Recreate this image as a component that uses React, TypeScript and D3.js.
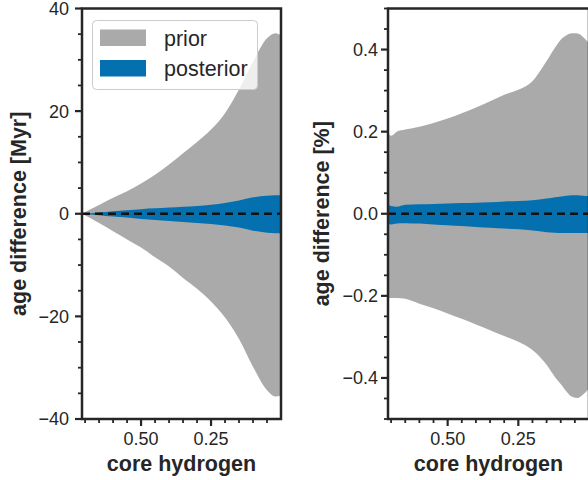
import React from "react";
import * as d3 from "d3";

// ---------- data ----------
const xLeft = [0.711, 0.65, 0.6, 0.55, 0.5, 0.45, 0.4, 0.35, 0.3, 0.25, 0.2, 0.15, 0.1, 0.05, 0.02, 0.0];
const priorUpperMyr = [0, 1.7, 3.1, 4.4, 5.9, 7.6, 9.6, 11.8, 14.0, 16.4, 19.6, 24.2, 29.6, 34.2, 35.2, 34.8];
const priorLowerMyr = [0, -1.8, -3.4, -5.0, -6.6, -8.5, -10.3, -12.5, -14.6, -17.1, -20.2, -24.4, -29.8, -34.4, -35.6, -35.4];
const postUpperMyr = [0, 0.25, 0.5, 0.7, 0.9, 1.05, 1.2, 1.35, 1.5, 1.75, 2.1, 2.6, 3.2, 3.5, 3.6, 3.6];
const postLowerMyr = [0, -0.3, -0.55, -0.75, -1.0, -1.2, -1.4, -1.6, -1.8, -2.0, -2.3, -2.7, -3.3, -3.7, -3.8, -3.8];

const xRight = [0.711, 0.7, 0.68, 0.65, 0.6, 0.55, 0.5, 0.45, 0.4, 0.35, 0.3, 0.25, 0.2, 0.15, 0.12, 0.1, 0.08, 0.06, 0.04, 0.02, 0.0];
const priorUpperPct = [0.196, 0.19, 0.2, 0.205, 0.212, 0.221, 0.232, 0.245, 0.259, 0.274, 0.29, 0.302, 0.323, 0.372, 0.405, 0.424, 0.435, 0.44, 0.439, 0.43, 0.415];
const priorLowerPct = [-0.205, -0.205, -0.205, -0.207, -0.219, -0.23, -0.243, -0.256, -0.27, -0.284, -0.298, -0.312, -0.332, -0.368, -0.398, -0.415, -0.433, -0.446, -0.449, -0.44, -0.425];
const postUpperPct = [0.022, 0.019, 0.017, 0.022, 0.023, 0.024, 0.025, 0.026, 0.027, 0.028, 0.03, 0.031, 0.033, 0.037, 0.04, 0.042, 0.044, 0.045, 0.045, 0.044, 0.043];
const postLowerPct = [-0.025, -0.026, -0.024, -0.023, -0.024, -0.026, -0.028, -0.03, -0.032, -0.034, -0.036, -0.038, -0.041, -0.045, -0.046, -0.047, -0.047, -0.047, -0.047, -0.047, -0.047];

const xMajorTicks = [0.5, 0.25];
const xMinorTicks = [0.7, 0.65, 0.6, 0.55, 0.45, 0.4, 0.35, 0.3, 0.2, 0.15, 0.1, 0.05];
const yLeftMajor = [40, 20, 0, -20, -40];
const yRightMajor = [0.4, 0.2, 0.0, -0.2, -0.4];

const legendLabels = ["prior", "posterior"];

const PRIOR = "#aaaaaa";
const POST = "#0570b0";
const INK = "#262626";
const FONT = "'Liberation Sans', Arial, sans-serif";

type PanelProps = {
  x0: number; x1: number; y0: number; y1: number;
  xs: number[]; pu: number[]; pl: number[]; qu: number[]; ql: number[];
  yDomain: [number, number]; yMajor: number[]; yMinorStep: number;
  fmt: (v: number) => string; ylabel: string; ylabelX: number; tickLabelX: number;
};

function Panel(p: PanelProps) {
  const x = d3.scaleLinear().domain([0.711, 0.0]).range([p.x0, p.x1]);
  const y = d3.scaleLinear().domain(p.yDomain).range([p.y1, p.y0]);
  const idx = p.xs.map((_, i) => i);
  const area = (lo: number[], hi: number[]) =>
    d3.area<number>()
      .x((i) => x(p.xs[i]))
      .y0((i) => y(lo[i]))
      .y1((i) => y(hi[i]))
      .curve(d3.curveMonotoneX)(idx) || "";
  const yMinor: number[] = [];
  const n = Math.round((p.yDomain[1] - p.yDomain[0]) / p.yMinorStep);
  for (let k = 0; k <= n; k++) {
    const v = p.yDomain[0] + k * p.yMinorStep;
    if (!p.yMajor.some((m) => Math.abs(m - v) < 1e-9)) yMinor.push(v);
  }
  const cx = (p.x0 + p.x1) / 2;
  const cy = (p.y0 + p.y1) / 2;
  return (
    <g>
      <path d={area(p.pl, p.pu)} fill={PRIOR} />
      <path d={area(p.ql, p.qu)} fill={POST} />
      <line x1={x(0.711)} x2={x(0)} y1={y(0)} y2={y(0)} stroke="#111" strokeWidth={2.5} strokeDasharray="8,5" />
      {/* spines */}
      <rect x={p.x0} y={p.y0} width={p.x1 - p.x0} height={p.y1 - p.y0} fill="none" stroke={INK} strokeWidth={2.5} />
      {/* x ticks */}
      {xMajorTicks.map((t) => (
        <g key={"xm" + t}>
          <line x1={x(t)} x2={x(t)} y1={p.y1} y2={p.y1 + 7} stroke={INK} strokeWidth={2.2} />
          <text x={x(t)} y={p.y1 + 26} textAnchor="middle" fontSize={18} fill={INK} fontFamily={FONT}>
            {t.toFixed(2)}
          </text>
        </g>
      ))}
      {xMinorTicks.map((t) => (
        <line key={"xn" + t} x1={x(t)} x2={x(t)} y1={p.y1} y2={p.y1 + 4} stroke={INK} strokeWidth={1.8} />
      ))}
      {/* y ticks */}
      {p.yMajor.map((t) => (
        <g key={"ym" + t}>
          <line x1={p.x0 - 7} x2={p.x0} y1={y(t)} y2={y(t)} stroke={INK} strokeWidth={2.2} />
          <text x={p.tickLabelX} y={y(t)} dy="0.36em" textAnchor="end" fontSize={18} fill={INK} fontFamily={FONT}>
            {p.fmt(t)}
          </text>
        </g>
      ))}
      {yMinor.map((t) => (
        <line key={"yn" + t} x1={p.x0 - 4} x2={p.x0} y1={y(t)} y2={y(t)} stroke={INK} strokeWidth={1.8} />
      ))}
      <text x={cx} y={471} textAnchor="middle" fontSize={21.5} fontWeight="bold" fill={INK} fontFamily={FONT}>
        core hydrogen
      </text>
      <text transform={`translate(${p.ylabelX},${cy}) rotate(-90)`} textAnchor="middle" fontSize={21.5} fontWeight="bold" fill={INK} fontFamily={FONT}>
        {p.ylabel}
      </text>
    </g>
  );
}

const minus = (s: string) => s.replace("-", "\u2212");

export default function App() {
  return (
    <div style={{ position: "absolute", left: 0, top: 0 }}>
      <svg width={588} height={480} style={{ display: "block", background: "#fff" }}>
        <Panel x0={82} x1={281} y0={8.5} y1={419} xs={xLeft} pu={priorUpperMyr} pl={priorLowerMyr} qu={postUpperMyr} ql={postLowerMyr}
          yDomain={[-40, 40]} yMajor={yLeftMajor} yMinorStep={5} fmt={(v) => minus(d3.format("d")(v))}
          ylabel="age difference [Myr]" ylabelX={26} tickLabelX={69} />
        <Panel x0={388} x1={589} y0={8.5} y1={419} xs={xRight} pu={priorUpperPct} pl={priorLowerPct} qu={postUpperPct} ql={postLowerPct}
          yDomain={[-0.5, 0.5]} yMajor={yRightMajor} yMinorStep={0.05} fmt={(v) => minus(d3.format(".1f")(v))}
          ylabel="age difference [%]" ylabelX={329} tickLabelX={378} />
        {/* legend */}
        <g>
          <rect x={92.5} y={20.5} width={165} height={69} rx={4} fill="#fff" fillOpacity={0.8} stroke="#cccccc" strokeWidth={1} />
          {legendLabels.map((lab, i) => (
            <g key={lab}>
              <rect x={100} y={29.5 + i * 30.5} width={46} height={16.5} fill={i === 0 ? PRIOR : POST} />
              <text x={164} y={45.5 + i * 30.5} fontSize={21.5} fill={INK} fontFamily={FONT}>
                {lab}
              </text>
            </g>
          ))}
        </g>
      </svg>
    </div>
  );
}
